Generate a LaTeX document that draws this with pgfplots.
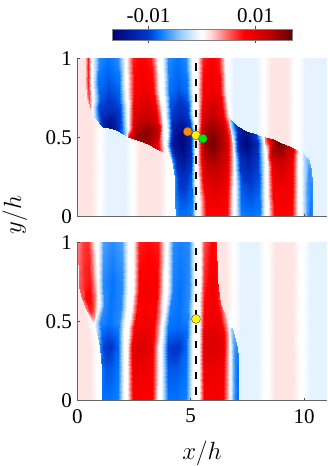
\documentclass[border=0pt]{standalone}
\usepackage{fontspec}
\setmainfont{Liberation Serif}
\usepackage{pgfplots}
\pgfplotsset{compat=1.18}
\pgfplotsset{
  colormap={bwrdark}{
    rgb(0pt)=(0,0,0.45); rgb(20pt)=(0,0.22,0.8); rgb(26pt)=(0,0.45,1);
    rgb(38pt)=(0.6,0.8,1); rgb(47pt)=(0.92,0.96,1); rgb(50pt)=(1,1,1);
    rgb(55pt)=(1,0.85,0.85); rgb(62pt)=(1,0.5,0.5); rgb(73pt)=(1,0,0);
    rgb(87pt)=(0.75,0,0); rgb(100pt)=(0.4,0,0)},
  band/.style={surf, shader=interp, mesh/cols=5, point meta=explicit},
  band3/.style={surf, shader=interp, mesh/cols=3, point meta=explicit},
  panel/.style={
    scale only axis, width=249.4pt, height=158.4pt, anchor=south west,
    xmin=0, xmax=11, ymin=0, ymax=1,
    axis x line*=bottom, axis y line*=left,
    axis line style={-, black!60, line width=0.6pt},
    tick align=inside, major tick length=2.5pt,
    tick style={black!70, line width=0.5pt},
    xtick={0,5,10}, ytick={0,0.5,1},
    yticklabels={0,0.5,1},
    tick label style={font=\fontsize{21}{21}\selectfont},
    yticklabel style={xshift=-2pt},
    xticklabel style={yshift=-5pt},
    point meta min=-16.8, point meta max=16.8,
    colormap name=bwrdark, axis on top},
  dashline/.style={black, line width=2.3pt, dash pattern=on 7.5pt off 8pt},
  dot/.style={only marks, mark=*, mark size=4.5pt,
    mark options={draw=black!70, line width=0.4pt, fill=#1}}}
\begin{document}
\begin{tikzpicture}
\useasboundingbox (0,0) rectangle (328pt,466pt);
% upper panel
\begin{axis}[panel, at={(77.3pt,249.3pt)}, xticklabels={},
  colorbar horizontal,
  colorbar style={at={(0.139,1.1155)}, anchor=south west, scale only axis,
    width=180pt, height=10.7pt, axis line style={black!50, line width=0.6pt},
    xtick={-10,10}, xticklabels={-0.01,0.01}, xticklabel pos=upper,
    tick align=outside, major tick length=3pt, ytick=\empty,
    xticklabel style={font=\fontsize{21}{21}\selectfont, yshift=0pt}}]
% weak bands, lower left
\addplot[band3] coordinates {
 (0,1)[1.2] (0.2,1)[1.2] (0.38,1)[1.2]
 (0,0.78)[1.2] (0.2,0.78)[1.2] (0.41,0.78)[1.2]
 (0,0.674)[1.2] (0.3,0.674)[1.2] (0.56,0.674)[1.2]
 (0,0.61)[1.2] (0.4,0.61)[1.2] (0.78,0.61)[0.8]
 (0,0.57)[1.2] (0.62,0.57)[1.2] (0.95,0.57)[0]
 (0,0)[1.2] (0.62,0)[1.2] (0.95,0)[0]};
\addplot[band] coordinates {
 (1,0.585)[0] (1.3,0.56)[-1.2] (1.7,0.54)[-1.2] (2.12,0.51)[-1.2] (2.42,0.497)[0]
 (1,0)[0] (1.3,0)[-1.2] (1.7,0)[-1.2] (2.12,0)[-1.2] (2.42,0)[0]};
\addplot[band] coordinates {
 (2.47,0.49)[0] (2.77,0.48)[1.2] (3.2,0.45)[1.2] (3.65,0.42)[1.2] (3.95,0.39)[0]
 (2.47,0)[0] (2.77,0)[1.2] (3.2,0)[1.2] (3.65,0)[1.2] (3.95,0)[0]};
% weak bands, upper right
\addplot[band] coordinates {
 (6.6,1)[0] (6.9,1)[-1.2] (7.4,1)[-1.2] (7.9,1)[-1.2] (8.2,1)[0]
 (6.6,0.66)[0] (6.9,0.585)[-1.2] (7.4,0.548)[-1.2] (7.9,0.522)[-1.2] (8.2,0.505)[0]};
\addplot[band] coordinates {
 (8.25,1)[0] (8.55,1)[1.2] (8.9,1)[1.2] (9.25,1)[1.2] (9.55,1)[0]
 (8.25,0.5)[0] (8.55,0.49)[1.2] (8.9,0.47)[1.2] (9.25,0.453)[1.2] (9.55,0.43)[0]};
\addplot[band] coordinates {
 (9.75,1)[0] (10.05,1)[-1.2] (10.4,1)[-1.2] (10.7,1)[-1.2] (11,1)[-1.2]
 (9.75,0.42)[0] (10.05,0.39)[-1.2] (10.2,0.365)[-1.2] (10.7,0.365)[-1.2] (11,0.365)[-1.2]
 (10.34,0.27)[-1.2] (10.5,0.27)[-1.2] (10.7,0.27)[-1.2] (10.85,0.27)[-1.2] (11,0.27)[-1.2]
 (10.38,0)[-1.2] (10.5,0)[-1.2] (10.7,0)[-1.2] (10.85,0)[-1.2] (11,0)[-1.2]};
% strong bands
\addplot[band3] coordinates {
 (0.38,1)[3] (0.47,1)[7] (0.6,1)[0]
 (0.4,0.85)[3] (0.48,0.85)[7] (0.62,0.85)[0]
 (0.43,0.75)[3] (0.5,0.75)[6] (0.63,0.75)[0]
 (0.56,0.674)[2] (0.58,0.674)[3] (0.65,0.674)[0]};
\addplot[band] coordinates {
 (0.66,1)[0] (0.94,1)[-7] (1.35,1)[-8] (1.8,1)[-7] (2.1,1)[0]
 (0.64,0.85)[0] (0.93,0.85)[-8] (1.37,0.85)[-9] (1.82,0.85)[-8] (2.12,0.85)[0]
 (0.7,0.75)[0] (0.98,0.75)[-9] (1.4,0.75)[-10] (1.84,0.75)[-9] (2.13,0.75)[0]
 (0.63,0.68)[0] (0.95,0.68)[-10] (1.45,0.68)[-11] (1.89,0.68)[-9.5] (2.18,0.68)[0]
 (0.78,0.62)[-3] (1.1,0.62)[-12] (1.5,0.62)[-14] (1.9,0.62)[-10] (2.2,0.62)[0]
 (1.15,0.568)[-12] (1.4,0.56)[-15] (1.7,0.548)[-13] (2,0.525)[-7] (2.25,0.505)[0]};
\addplot[band] coordinates {
 (2.17,1)[0] (2.45,1)[7] (2.8,1)[8] (3.25,1)[7] (3.55,1)[0]
 (2.2,0.8)[0] (2.48,0.8)[8] (2.9,0.8)[9] (3.34,0.8)[8] (3.62,0.8)[0]
 (2.22,0.68)[0] (2.52,0.68)[9.5] (3,0.68)[11] (3.44,0.68)[9.5] (3.72,0.68)[0]
 (2.25,0.6)[0] (2.56,0.6)[11.5] (3.05,0.6)[13] (3.49,0.6)[11] (3.78,0.6)[0]
 (2.25,0.55)[0.5] (2.56,0.55)[13] (3.1,0.55)[15] (3.54,0.55)[12] (3.8,0.55)[0]
 (2.25,0.505)[7] (2.65,0.487)[15] (3.1,0.46)[14] (3.5,0.43)[10] (3.85,0.4)[0]};
\addplot[band] coordinates {
 (3.72,1)[0] (4,1)[-7] (4.38,1)[-8] (4.78,1)[-7] (5.05,1)[0]
 (3.8,0.8)[0] (4.05,0.8)[-8] (4.45,0.8)[-9] (4.83,0.8)[-8] (5.1,0.8)[0]
 (3.88,0.65)[0] (4.14,0.65)[-10] (4.55,0.65)[-12] (4.9,0.65)[-10] (5.12,0.65)[0]
 (3.95,0.52)[0] (4.2,0.52)[-14] (4.6,0.52)[-16] (4.95,0.52)[-13] (5.18,0.52)[0]
 (3.9,0.45)[0] (4.18,0.45)[-14] (4.6,0.45)[-16] (4.99,0.45)[-13] (5.2,0.45)[0]
 (4.16,0.36)[-6] (4.4,0.36)[-13] (4.7,0.36)[-14] (5,0.36)[-11] (5.2,0.36)[0]
 (4.31,0.25)[-7] (4.5,0.25)[-11] (4.75,0.25)[-11] (5.02,0.25)[-9] (5.2,0.25)[0]
 (4.33,0.1)[-7] (4.55,0.1)[-9] (4.78,0.1)[-9] (5.04,0.1)[-8] (5.22,0.1)[0]
 (4.35,0)[-7] (4.55,0)[-8] (4.8,0)[-8] (5.04,0)[-7] (5.22,0)[0]};
\addplot[band] coordinates {
 (5.3,1)[0] (5.55,1)[7] (5.9,1)[8] (6.26,1)[7] (6.5,1)[0]
 (5.3,0.8)[0] (5.55,0.8)[8] (5.9,0.8)[9] (6.28,0.8)[8] (6.55,0.8)[0]
 (5.3,0.65)[0] (5.55,0.65)[10] (5.95,0.65)[12] (6.4,0.65)[9.5] (6.7,0.65)[0]
 (5.3,0.55)[0] (5.55,0.55)[13] (5.95,0.55)[15] (6.49,0.55)[12] (6.85,0.55)[0]
 (5.3,0.45)[0] (5.58,0.45)[14] (6,0.45)[16] (6.54,0.45)[12] (6.9,0.45)[0]
 (5.3,0.3)[0] (5.61,0.3)[11] (6.1,0.3)[12] (6.6,0.3)[10] (6.9,0.3)[0]
 (5.35,0.1)[0] (5.66,0.1)[8.5] (6.15,0.1)[9] (6.6,0.1)[8] (6.85,0.1)[0]
 (5.35,0)[0] (5.66,0)[7.5] (6.15,0)[8] (6.6,0)[7.5] (6.85,0)[0]};
\addplot[band] coordinates {
 (6.7,0.625)[-3] (7.03,0.57)[-12] (7.45,0.54)[-15] (7.9,0.522)[-10] (8.2,0.505)[0]
 (6.88,0.45)[0] (7.14,0.45)[-14] (7.5,0.45)[-16] (7.94,0.45)[-12] (8.25,0.45)[0]
 (6.92,0.35)[0] (7.19,0.35)[-11] (7.55,0.35)[-13] (7.99,0.35)[-10] (8.27,0.35)[0]
 (6.95,0.2)[0] (7.22,0.2)[-9] (7.6,0.2)[-10] (8.02,0.2)[-9] (8.28,0.2)[0]
 (6.95,0)[0] (7.23,0)[-7.5] (7.65,0)[-8] (8.06,0)[-7.5] (8.3,0)[0]};
\addplot[band] coordinates {
 (8.3,0.5)[5] (8.65,0.488)[14] (9,0.465)[16] (9.42,0.44)[11.5] (9.8,0.415)[0]
 (8.34,0.4)[0] (8.6,0.4)[13] (9,0.4)[14] (9.46,0.4)[10] (9.75,0.4)[0]
 (8.36,0.32)[0] (8.63,0.32)[10] (9.03,0.32)[11] (9.47,0.32)[9] (9.75,0.32)[0]
 (8.38,0.2)[0] (8.65,0.2)[8.5] (9.05,0.2)[9] (9.48,0.2)[8.5] (9.75,0.2)[0]
 (8.4,0)[0] (8.68,0)[7.5] (9.1,0)[8] (9.49,0)[7.5] (9.75,0)[0]};
\addplot[band] coordinates {
 (9.88,0.41)[0] (9.95,0.4)[-2] (10.02,0.39)[-3] (10.1,0.38)[-4] (10.19,0.368)[-4]
 (9.85,0.3)[0] (10,0.3)[-3] (10.12,0.3)[-5] (10.22,0.3)[-7] (10.3,0.3)[-6]
 (9.85,0.2)[0] (10,0.2)[-3] (10.15,0.2)[-6] (10.28,0.2)[-7] (10.36,0.2)[-7]
 (9.85,0)[0] (10,0)[-3] (10.15,0)[-6] (10.28,0)[-8] (10.38,0)[-7]};
\addplot[dashline] coordinates {(5.22,0.97) (5.22,0)};
\addplot[dot={orange!90!yellow}] coordinates {(4.87,0.537)};
\addplot[dot=yellow] coordinates {(5.235,0.514)};
\addplot[dot={green!90!black}] coordinates {(5.54,0.493)};
\end{axis}
% lower panel
\begin{axis}[panel, at={(77.3pt,65.3pt)}, xticklabels={0,5,10}]
\addplot[band] coordinates {
 (0,0.98)[1.2] (0.09,0.72)[1.2] (0.19,0.65)[1.2] (0.41,0.565)[0.6] (0.71,0.49)[0]
 (0,0.34)[1.2] (0.3,0.34)[1.2] (0.55,0.34)[1.2] (0.85,0.34)[0] (1,0.34)[0]
 (0,0)[1.2] (0.3,0)[1.2] (0.55,0)[1.2] (0.85,0)[0] (1.07,0)[0]};
\addplot[band] coordinates {
 (6.12,1)[1.2] (6.3,1)[1.2] (6.5,1)[1.2] (6.7,1)[0.5] (6.85,1)[0]
 (6.29,0.617)[1.2] (6.4,0.617)[1.2] (6.55,0.617)[1.2] (6.72,0.617)[0.5] (6.88,0.617)[0]
 (6.59,0.51)[1] (6.65,0.51)[0.8] (6.7,0.51)[0.5] (6.75,0.51)[0.2] (6.82,0.51)[0]};
\addplot[band] coordinates {
 (6.9,1)[0] (7.2,1)[-1.2] (7.55,1)[-1.2] (7.95,1)[-1.2] (8.25,1)[0]
 (6.9,0.45)[0] (7.2,0.45)[-1.2] (7.55,0.45)[-1.2] (7.95,0.45)[-1.2] (8.25,0.45)[0]
 (7.03,0.34)[-1.2] (7.25,0.34)[-1.2] (7.55,0.34)[-1.2] (7.95,0.34)[-1.2] (8.25,0.34)[0]
 (7.13,0.2)[-1.2] (7.3,0.2)[-1.2] (7.55,0.2)[-1.2] (7.95,0.2)[-1.2] (8.25,0.2)[0]
 (7.13,0)[-1.2] (7.3,0)[-1.2] (7.55,0)[-1.2] (7.95,0)[-1.2] (8.25,0)[0]};
\addplot[band] coordinates {
 (8.4,1)[0] (8.7,1)[1.2] (9.1,1)[1.2] (9.5,1)[1.2] (9.8,1)[0]
 (8.4,0)[0] (8.7,0)[1.2] (9.1,0)[1.2] (9.5,0)[1.2] (9.8,0)[0]};
\addplot[band] coordinates {
 (9.95,1)[0] (10.25,1)[-1.2] (10.5,1)[-1.2] (10.75,1)[-1.2] (11,1)[-1.2]
 (9.95,0)[0] (10.25,0)[-1.2] (10.5,0)[-1.2] (10.75,0)[-1.2] (11,0)[-1.2]};
\addplot[band] coordinates {
 (0.05,1)[4] (0.25,1)[6] (0.45,1)[6.5] (0.62,1)[4] (0.8,1)[0]
 (0.09,0.72)[5] (0.35,0.72)[7] (0.55,0.72)[7.5] (0.72,0.72)[4] (0.9,0.72)[0]
 (0.19,0.65)[5] (0.4,0.65)[8] (0.6,0.65)[7.5] (0.78,0.65)[4] (0.92,0.65)[0]
 (0.41,0.565)[4] (0.55,0.565)[7] (0.68,0.565)[6] (0.8,0.565)[3] (0.9,0.565)[0]
 (0.71,0.49)[1] (0.73,0.49)[1] (0.76,0.49)[1] (0.78,0.49)[1] (0.8,0.49)[0]};
\addplot[band] coordinates {
 (0.9,1)[0] (1.15,1)[-6] (1.55,1)[-7] (1.98,1)[-6] (2.25,1)[0]
 (0.9,0.75)[0] (1.15,0.75)[-7] (1.55,0.75)[-8] (1.98,0.75)[-7] (2.25,0.75)[0]
 (0.95,0.6)[0] (1.18,0.6)[-7] (1.5,0.6)[-8] (1.93,0.6)[-7] (2.2,0.6)[0]
 (0.75,0.5)[0] (1,0.5)[-7] (1.4,0.5)[-8] (1.83,0.5)[-7] (2.1,0.5)[0]
 (0.88,0.43)[-3] (1.1,0.43)[-8.5] (1.4,0.43)[-9] (1.79,0.43)[-8] (2.05,0.43)[0]
 (1,0.34)[-7] (1.15,0.34)[-10] (1.45,0.34)[-10.5] (1.79,0.34)[-8.5] (2.05,0.34)[0]
 (1.07,0.2)[-8] (1.25,0.2)[-9] (1.5,0.2)[-9] (1.81,0.2)[-8] (2.05,0.2)[0]
 (1.07,0)[-8] (1.25,0)[-8] (1.5,0)[-8] (1.81,0)[-7.5] (2.05,0)[0]};
\addplot[band] coordinates {
 (2.45,1)[0] (2.7,1)[7] (3.1,1)[7.5] (3.55,1)[7] (3.85,1)[0]
 (2.45,0.7)[0] (2.7,0.7)[8] (3.1,0.7)[8.5] (3.53,0.7)[8] (3.82,0.7)[0]
 (2.35,0.58)[0] (2.63,0.58)[7.5] (3.05,0.58)[8] (3.49,0.58)[7.5] (3.78,0.58)[0]
 (2.25,0.45)[0] (2.5,0.45)[8.5] (2.9,0.45)[9] (3.36,0.45)[8.5] (3.68,0.45)[0]
 (2.2,0.33)[0] (2.46,0.33)[10] (2.85,0.33)[10.5] (3.31,0.33)[9] (3.62,0.33)[0]
 (2.2,0.2)[0] (2.46,0.2)[9] (2.85,0.2)[9] (3.3,0.2)[8.5] (3.6,0.2)[0]
 (2.2,0)[0] (2.45,0)[8] (2.85,0)[8] (3.29,0)[8] (3.58,0)[0]};
\addplot[band] coordinates {
 (3.95,1)[0] (4.2,1)[-7] (4.55,1)[-7.5] (4.93,1)[-7] (5.2,1)[0]
 (3.95,0.7)[0] (4.2,0.7)[-7.5] (4.55,0.7)[-8] (4.93,0.7)[-7] (5.2,0.7)[0]
 (3.85,0.58)[0] (4.1,0.58)[-7.5] (4.5,0.58)[-8] (4.88,0.58)[-7] (5.15,0.58)[0]
 (3.75,0.45)[0] (4,0.45)[-8] (4.4,0.45)[-8.5] (4.83,0.45)[-8] (5.12,0.45)[0]
 (3.7,0.33)[0] (3.98,0.33)[-10] (4.38,0.33)[-10.5] (4.81,0.33)[-8.5] (5.1,0.33)[0]
 (3.7,0.2)[0] (3.98,0.2)[-9] (4.38,0.2)[-9] (4.81,0.2)[-8] (5.1,0.2)[0]
 (3.7,0)[0] (3.98,0)[-8] (4.38,0)[-8] (4.81,0)[-7.5] (5.1,0)[0]};
\addplot[band] coordinates {
 (5.4,1)[0] (5.58,1)[5.5] (5.8,1)[7] (5.98,1)[8] (6.12,1)[7]
 (5.4,0.76)[0] (5.58,0.76)[6.5] (5.8,0.76)[8] (6,0.76)[8.5] (6.15,0.76)[7.5]
 (5.38,0.617)[0] (5.58,0.617)[7.5] (5.85,0.617)[8.5] (6.1,0.617)[8.5] (6.29,0.617)[6]
 (5.35,0.51)[0] (5.6,0.51)[8.5] (5.95,0.51)[9] (6.3,0.51)[8.5] (6.59,0.51)[2]
 (5.35,0.42)[0] (5.6,0.42)[9.5] (6,0.42)[10] (6.44,0.42)[9] (6.72,0.42)[0]
 (5.35,0.33)[0] (5.6,0.33)[10] (6,0.33)[10.5] (6.44,0.33)[9.5] (6.72,0.33)[0]
 (5.35,0.2)[0] (5.6,0.2)[9] (6,0.2)[9] (6.44,0.2)[8.5] (6.72,0.2)[0]
 (5.35,0)[0] (5.6,0)[8] (6,0)[8.5] (6.44,0)[8] (6.72,0)[0]};
\addplot[band] coordinates {
 (6.72,0.46)[0] (6.75,0.46)[-2] (6.78,0.46)[-3] (6.81,0.46)[-4] (6.84,0.46)[-4]
 (6.72,0.34)[0] (6.85,0.34)[-5] (6.92,0.34)[-6] (6.98,0.34)[-7] (7.03,0.34)[-7]
 (6.72,0.2)[0] (6.85,0.2)[-5] (6.95,0.2)[-7] (7.05,0.2)[-8] (7.13,0.2)[-8]
 (6.72,0)[0] (6.85,0)[-5] (6.95,0)[-7] (7.05,0)[-8] (7.13,0)[-8]};
\addplot[dashline] coordinates {(5.22,0.965) (5.22,0)};
\addplot[dot=yellow] coordinates {(5.235,0.516)};
\end{axis}
\node[rotate=90, font=\fontsize{25}{25}\selectfont] at (15pt,251pt) {$y/h$};
\node[font=\fontsize{25}{25}\selectfont] at (202pt,13pt) {$x/h$};
\end{tikzpicture}
\end{document}
